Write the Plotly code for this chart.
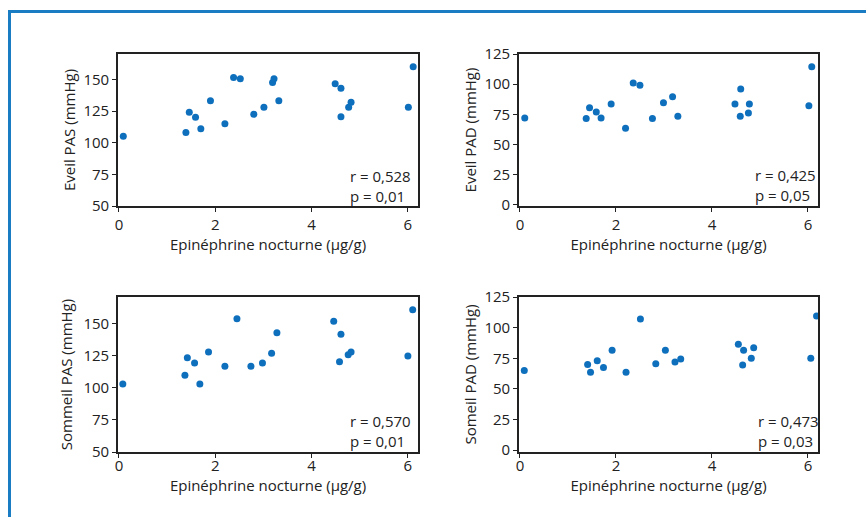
import plotly.graph_objects as go

# Panel 1: Eveil PAS
x_eveil_pas = [0.09, 1.39, 1.46, 1.59, 1.70, 1.90, 2.20, 2.38, 2.52, 2.80, 3.01,
               3.19, 3.22, 3.32, 4.49, 4.61, 4.61, 4.77, 4.82, 6.01, 6.11]
y_eveil_pas = [105, 108, 124, 120, 111, 133, 115, 151.5, 150.5, 122.5, 128,
               147.5, 150.5, 133, 146.5, 143, 120.5, 128, 132, 128, 160]

# Panel 2: Eveil PAD
x_eveil_pad = [0.10, 1.38, 1.45, 1.59, 1.69, 1.90, 2.20, 2.36, 2.50, 2.76,
               2.99, 3.18, 3.29, 4.48, 4.60, 4.59, 4.76, 4.78, 6.02, 6.08]
y_eveil_pad = [72, 71.5, 80.5, 77, 72, 83.5, 63.5, 101, 99, 71.5,
               84.5, 89.5, 73.5, 83.5, 96, 73.5, 76, 83.5, 82, 114.5]

# Panel 3: Sommeil PAS
x_sommeil_pas = [0.08, 1.37, 1.42, 1.57, 1.68, 1.86, 2.20, 2.45, 2.74, 2.98,
                 3.17, 3.28, 4.46, 4.61, 4.58, 4.76, 4.82, 6.00, 6.10]
y_sommeil_pas = [103, 110, 123.5, 119.5, 103, 128, 117, 154, 117, 119.5,
                 127, 143, 152, 142, 120.5, 126, 128, 125, 161]

# Panel 4: Someil PAD
x_sommeil_pad = [0.09, 1.41, 1.47, 1.61, 1.74, 1.92, 2.21, 2.51, 2.83, 3.03,
                 3.23, 3.35, 4.55, 4.66, 4.64, 4.82, 4.87, 6.06, 6.18]
y_sommeil_pad = [65, 70, 63.5, 73, 67.5, 81.5, 63.5, 107, 70.5, 81.5,
                 72, 74.5, 86.5, 81.5, 69.5, 75, 83.5, 75, 109.5]

x_title = "Epinéphrine nocturne (µg/g)"
y_titles = ["Eveil PAS (mmHg)", "Eveil PAD (mmHg)", "Sommeil PAS (mmHg)", "Someil PAD (mmHg)"]
stats = ["r = 0,528<br>p = 0,01", "r = 0,425<br>p = 0,05",
         "r = 0,570<br>p = 0,01", "r = 0,473<br>p = 0,03"]
x_ticks = [0, 2, 4, 6]
pas_ticks = [50, 75, 100, 125, 150]
pad_ticks = [0, 25, 50, 75, 100, 125]

W, H = 866, 517
FONT = "Open Sans"
BLUE = "#0e6fbd"

data = [(x_eveil_pas, y_eveil_pas), (x_eveil_pad, y_eveil_pad),
        (x_sommeil_pas, y_sommeil_pas), (x_sommeil_pad, y_sommeil_pad)]

# pixel boxes: (left, right, top, bottom)
boxes = [(118, 418, 54, 206), (519, 818, 54, 206),
         (118, 418, 297, 452), (519, 818, 297, 452)]
yranges = [[50, 170], [-1, 125], [50, 171], [-1.5, 125]]
ytickss = [pas_ticks, pad_ticks, pas_ticks, pad_ticks]
stat_pos = [(4.76, 65.5), (4.86, 16), (4.76, 66.5), (4.92, 15.5)]
xlabel_shift = [0, 0, -5, -5]
xtitle_standoff = [4, 4, 0, 0]
ytitle_standoff = [4, 4, 7, 4]

fig = go.Figure()
layout = dict(width=W, height=H, margin=dict(l=0, r=0, t=0, b=0, pad=0),
              template="none", autosize=False,
              paper_bgcolor="white", plot_bgcolor="white", showlegend=False,
              font=dict(family=FONT, size=15, color="#222"))
annotations = []
for i, ((xs, ys), (l, r, t, b)) in enumerate(zip(data, boxes)):
    n = "" if i == 0 else str(i + 1)
    fig.add_trace(go.Scatter(x=xs, y=ys, mode="markers", xaxis="x" + n, yaxis="y" + n,
                             marker=dict(color=BLUE, size=7), cliponaxis=False))
    axis_common = dict(showgrid=False, zeroline=False, showline=True, mirror=True,
                       automargin=False,
                       linecolor="#222", linewidth=1.6, ticks="outside", ticklen=4,
                       tickwidth=1.2, tickcolor="#222",
                       tickfont=dict(family=FONT, size=15, color="#222"))
    layout["xaxis" + n] = dict(axis_common, domain=[l / W, r / W], range=[-0.02, 6.21],
                               tickvals=x_ticks, anchor="y" + n,
                               ticklabelstandoff=xlabel_shift[i],
                               title=dict(text=x_title, standoff=xtitle_standoff[i],
                                          font=dict(family=FONT, size=15, color="#222")))
    layout["yaxis" + n] = dict(axis_common, domain=[1 - b / H, 1 - t / H], range=yranges[i],
                               tickvals=ytickss[i], anchor="x" + n,
                               title=dict(text=y_titles[i], standoff=ytitle_standoff[i],
                                          font=dict(family=FONT, size=15, color="#222")))
    sx, sy = stat_pos[i]
    annotations.append(dict(text=stats[i], x=sx, y=sy, xref="x" + n, yref="y" + n,
                            xanchor="left", yanchor="middle", align="left", showarrow=False,
                            font=dict(family=FONT, size=15, color="#222")))

layout["annotations"] = annotations
layout["shapes"] = [dict(type="rect", xref="paper", yref="paper",
                         x0=9.5 / W, x1=1.05, y0=-0.1, y1=1 - 11.5 / H,
                         line=dict(color="#1a7cc3", width=3), layer="above")]
fig.update_layout(**layout)
fig.write_html("out.html",
               config={"displayModeBar": False},
               post_script="document.documentElement.style.margin='0';"
                           "document.body.style.margin='0';"
                           "document.body.style.overflow='hidden';"
                           "var d=document.getElementById('{plot_id}');"
                           "d.style.position='fixed';d.style.top='0px';d.style.left='0px';")
